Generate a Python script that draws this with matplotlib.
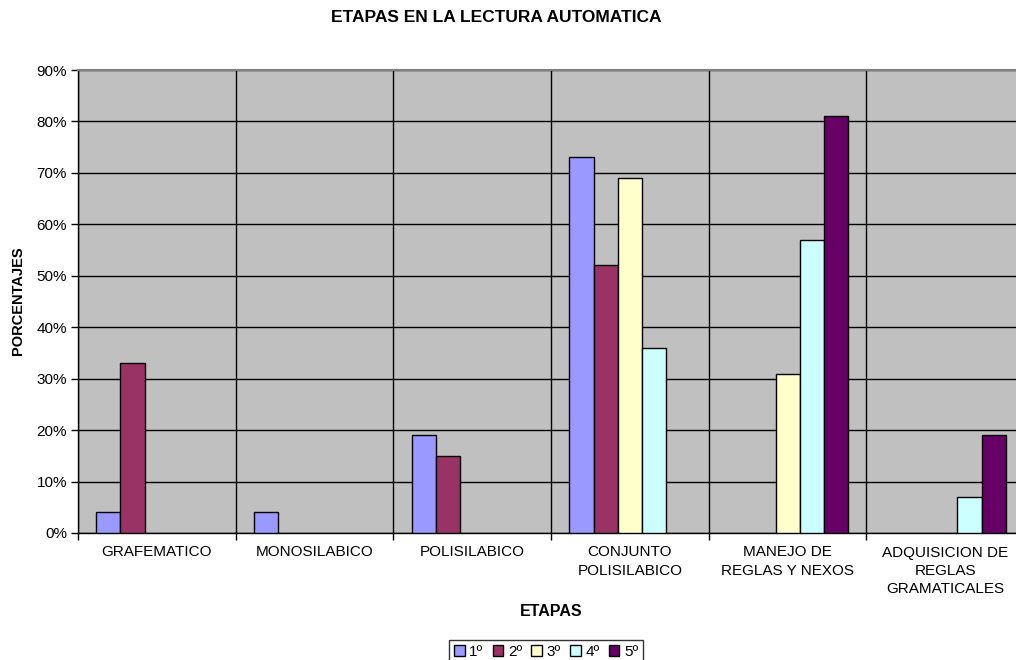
import numpy as np
import matplotlib as mpl
mpl.use("Agg")
import matplotlib.pyplot as plt
from matplotlib.ticker import FixedLocator, PercentFormatter

plt.rcParams["font.family"] = ["Liberation Sans", "DejaVu Sans"]

categories = ["GRAFEMATICO", "MONOSILABICO", "POLISILABICO",
              "CONJUNTO\nPOLISILABICO", "MANEJO DE\nREGLAS Y NEXOS",
              "ADQUISICION DE\nREGLAS\nGRAMATICALES"]
series = ["1º", "2º", "3º", "4º", "5º"]
values = {
    "1º": [4, 4, 19, 73, 0, 0],
    "2º": [33, 0, 15, 52, 0, 0],
    "3º": [0, 0, 0, 69, 31, 0],
    "4º": [0, 0, 0, 36, 57, 7],
    "5º": [0, 0, 0, 0, 81, 19],
}
colors = ["#9999FF", "#993366", "#FFFFCC", "#CCFFFF", "#660066"]

W, H = 1016, 660
fig = plt.figure(figsize=(W / 100, H / 100), dpi=100)
left, right, top, bottom = 78, 78 + 6 * 157.7, 70, 533
ax = fig.add_axes([left / W, 1 - bottom / H, (right - left) / W, (bottom - top) / H])
ax.set_facecolor("#C0C0C0")

n = len(series)
bw = 1 / (n + 1.5)
x = np.arange(len(categories))
handles = []
for i, s in enumerate(series):
    vals = np.array(values[s], dtype=float)
    pos = x + (i - (n - 1) / 2) * bw
    mask = vals > 0
    ax.bar(pos[mask], vals[mask], bw, color=colors[i], edgecolor="black",
           linewidth=1.0, zorder=3)
    handles.append(plt.Rectangle((0, 0), 1, 1, facecolor=colors[i],
                                 edgecolor="black", linewidth=1.0))

ax.set_xlim(-0.5, len(categories) - 0.5)
ax.set_ylim(0, 90)
ax.set_yticks(np.arange(0, 91, 10))
ax.yaxis.set_major_formatter(PercentFormatter(decimals=0))
ax.xaxis.set_major_locator(FixedLocator(np.arange(-0.5, len(categories), 1)))
ax.xaxis.set_minor_locator(FixedLocator(x))
ax.set_xticklabels([], minor=False)
ax.set_xticklabels(categories, minor=True, fontsize=11, linespacing=1.4)
ax.tick_params(axis="x", which="major", length=5, width=1, direction="out")
ax.tick_params(axis="x", which="minor", length=0, pad=9)
ax.tick_params(axis="y", length=5, width=1, direction="out", labelsize=11, pad=3)
ax.grid(True, which="major", color="black", linewidth=1.0, zorder=1)
ax.set_axisbelow(True)
for side in ["left", "bottom"]:
    ax.spines[side].set_color("black")
    ax.spines[side].set_linewidth(1.0)
ax.spines["top"].set_color("#808080")
ax.spines["top"].set_linewidth(1.5)
ax.spines["right"].set_visible(False)

fig.text(496 / W, 1 - 18 / H, "ETAPAS EN LA LECTURA AUTOMATICA",
         ha="center", va="center", fontsize=12.5, fontweight="bold")
fig.text(18 / W, 1 - 301 / H, "PORCENTAJES", rotation=90,
         ha="center", va="center", fontsize=10.5, fontweight="bold")
fig.text(551 / W, 1 - 612 / H, "ETAPAS",
         ha="center", va="center", fontsize=11.5, fontweight="bold")

leg = fig.legend(handles, series, loc="upper center",
                 bbox_to_anchor=(546 / W, 1 - 640 / H), ncol=5,
                 frameon=True, fancybox=False, edgecolor="black",
                 fontsize=11, handlelength=0.7, handleheight=0.7,
                 handletextpad=0.3, columnspacing=0.6, borderpad=0.3,
                 borderaxespad=0)
leg.get_frame().set_linewidth(1.0)

fig.savefig("out.png", dpi=100)
